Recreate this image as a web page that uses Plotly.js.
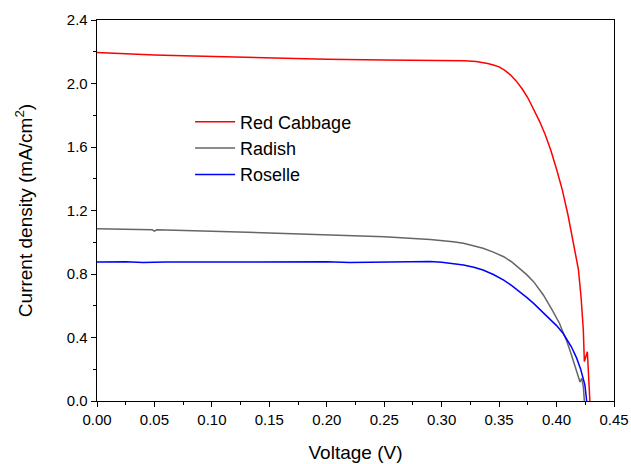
<!DOCTYPE html>
<html>
<head>
<meta charset="utf-8">
<script src="https://cdn.plot.ly/plotly-3.0.1.min.js"></script>
<style>html,body{margin:0;padding:0;background:#fff;}#chart{width:631px;height:464px;}</style>
</head>
<body>
<div id="chart"></div>
<script>
// Red Cabbage
var redV = [0.000,0.025,0.050,0.075,0.100,0.125,0.150,0.200,0.250,0.300,0.310,0.320,0.330,0.335,0.340,0.345,0.350,0.355,0.360,0.365,0.370,0.375,0.380,0.385,0.390,0.395,0.400,0.405,0.410,0.415,0.419,0.4213,0.4233,0.4242,0.4268,0.4290];
var redI = [2.195,2.186,2.180,2.175,2.170,2.165,2.160,2.152,2.148,2.146,2.145,2.143,2.138,2.133,2.126,2.117,2.105,2.083,2.053,2.015,1.967,1.910,1.842,1.765,1.680,1.580,1.460,1.330,1.170,0.980,0.830,0.657,0.447,0.248,0.310,0.000];
// Radish
var radV = [0.000,0.025,0.048,0.050,0.052,0.100,0.150,0.200,0.250,0.290,0.300,0.310,0.319,0.328,0.336,0.345,0.354,0.361,0.368,0.374,0.380,0.3885,0.397,0.4025,0.4058,0.409,0.413,0.416,0.419,0.4204,0.4219,0.4233,0.4242];
var radI = [1.085,1.082,1.078,1.070,1.078,1.070,1.058,1.048,1.035,1.018,1.012,1.003,0.993,0.979,0.962,0.938,0.909,0.876,0.836,0.796,0.752,0.668,0.563,0.490,0.430,0.375,0.290,0.220,0.150,0.120,0.143,0.090,0.000];
// Roselle
var rosV = [0.000,0.025,0.040,0.060,0.100,0.150,0.200,0.220,0.250,0.290,0.300,0.310,0.319,0.328,0.336,0.345,0.354,0.361,0.368,0.374,0.380,0.3885,0.394,0.400,0.4058,0.409,0.413,0.4175,0.421,0.4247,0.4262];
var rosI = [0.875,0.877,0.872,0.876,0.876,0.877,0.877,0.873,0.877,0.878,0.874,0.866,0.857,0.843,0.825,0.797,0.762,0.727,0.689,0.653,0.615,0.558,0.520,0.475,0.425,0.390,0.340,0.270,0.200,0.100,0.000];

var names = ['Red Cabbage','Radish','Roselle'];
var colors = ['#ff0000','#666666','#0000ff'];

var traces = [[redV,redI],[radV,radI],[rosV,rosI]].map(function(d,i){
  return {x:d[0], y:d[1], type:'scatter', mode:'lines', name:names[i],
          line:{color:colors[i], width:1.5}};
});

var fontFam = 'Liberation Sans, Arial, sans-serif';
var layout = {
  width:631, height:464,
  margin:{l:97, r:17, t:20, b:63},
  paper_bgcolor:'#fff', plot_bgcolor:'#fff',
  font:{family:fontFam, color:'#000', size:15},
  showlegend:true,
  legend:{x:0.18, y:0.781, xanchor:'left', yanchor:'top', bgcolor:'rgba(0,0,0,0)',
          font:{size:18, family:fontFam}, tracegroupgap:0, itemwidth:40},
  xaxis:{range:[0,0.45], dtick:0.05, tickformat:'.2f', showgrid:false, zeroline:false,
         showline:true, linecolor:'#000', linewidth:1.3, mirror:true,
         ticks:'outside', ticklen:5, tickcolor:'#000',
         minor:{dtick:0.025, ticks:'outside', ticklen:3, tickcolor:'#000'},
         tickfont:{size:15},
         title:{text:'Voltage (V)', font:{size:19}, standoff:18}},
  yaxis:{range:[0,2.4], dtick:0.4, tickformat:'.1f', showgrid:false, zeroline:false,
         showline:true, linecolor:'#000', linewidth:1.3, mirror:true,
         ticks:'outside', ticklen:5, tickcolor:'#000',
         minor:{dtick:0.2, ticks:'outside', ticklen:3, tickcolor:'#000'},
         tickfont:{size:15},
         title:{text:'Current density (mA/cm<sup>2</sup>)', font:{size:19}, standoff:29}}
};
Plotly.newPlot('chart', traces, layout, {displayModeBar:false, staticPlot:true});
</script>
</body>
</html>
